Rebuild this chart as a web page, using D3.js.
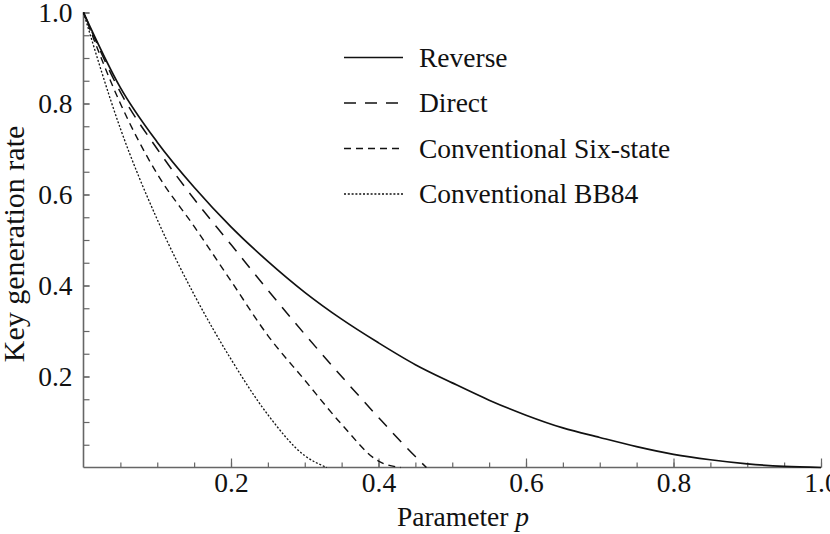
<!DOCTYPE html>
<html>
<head>
<meta charset="utf-8">
<script src="https://cdn.jsdelivr.net/npm/d3@7"></script>
<style>
  body { margin: 0; background: #fff; }
  text { font-family: "Liberation Serif", "Times New Roman", serif; fill: #111; }
</style>
</head>
<body>
<svg id="chart" width="830" height="534"></svg>
<script>
// values
var p_reverse   = [0, 0.05, 0.1, 0.15, 0.2, 0.25, 0.3, 0.35, 0.4, 0.45, 0.5, 0.55, 0.6, 0.65, 0.7, 0.75, 0.8, 0.85, 0.9, 0.95, 1.0]
var k_reverse   = [1.0, 0.835, 0.715, 0.616, 0.529, 0.453, 0.385, 0.326, 0.274, 0.226, 0.186, 0.148, 0.115, 0.087, 0.066, 0.046, 0.029, 0.017, 0.008, 0.0025, 0]

var p_direct    = [0, 0.05, 0.1, 0.15, 0.2, 0.25, 0.3, 0.35, 0.4, 0.45, 0.465]
var k_direct    = [1.0, 0.825, 0.70, 0.59, 0.49, 0.39, 0.293, 0.2, 0.11, 0.024, 0]

var p_sixstate  = [0, 0.05, 0.1, 0.15, 0.2, 0.25, 0.3, 0.35, 0.4, 0.43]
var k_sixstate  = [1.0, 0.80, 0.645, 0.53, 0.41, 0.29, 0.192, 0.095, 0.014, 0]

var p_bb84      = [0, 0.05, 0.1, 0.15, 0.2, 0.25, 0.3, 0.33]
var k_bb84      = [1.0, 0.745, 0.545, 0.38, 0.238, 0.116, 0.026, 0]

var series_names = ["Reverse", "Direct", "Conventional Six-state", "Conventional BB84"]
var x_ticks = [0.2, 0.4, 0.6, 0.8, 1.0]
var y_ticks = [0.2, 0.4, 0.6, 0.8, 1.0]

var series = [
    {name: series_names[0], p: p_reverse,  k: k_reverse,  dash: null,    w: 1.7},
    {name: series_names[1], p: p_direct,   k: k_direct,   dash: "12,9",  w: 1.5},
    {name: series_names[2], p: p_sixstate, k: k_sixstate, dash: "7,5",   w: 1.4},
    {name: series_names[3], p: p_bb84,     k: k_bb84,     dash: "2,1.8", w: 1.3}
]

var svg = d3.select("#chart")
var plotLeft = 83.5, plotRight = 821, plotTop = 12.5, plotBottom = 467.5

var xScale = d3.scaleLinear().domain([0, 1]).range([plotLeft, plotRight]),
    yScale = d3.scaleLinear().domain([0, 1]).range([plotBottom, plotTop])

var axisColor = "#666"
var tickFont = "27.5px"

// minor ticks every 0.05
var minor = d3.range(1, 21).map(function(i){ return i * 0.05 })

var xAxis = svg.append("g")
    .attr("transform", "translate(0," + plotBottom + ")")
    .call(d3.axisBottom(xScale).tickValues(minor).tickSize(-5).tickFormat(""))
xAxis.select(".domain").remove()
xAxis.selectAll("line").attr("stroke", axisColor).attr("stroke-width", 1.2)

var xMajor = svg.append("g")
    .attr("transform", "translate(0," + plotBottom + ")")
    .call(d3.axisBottom(xScale).tickValues(x_ticks).tickSize(-9).tickFormat(d3.format(".1f")))
xMajor.select(".domain").remove()
xMajor.selectAll("line").attr("stroke", axisColor).attr("stroke-width", 1.2)
xMajor.selectAll("text")
    .attr("y", 24)
    .attr("dy", 0)
    .style("font-size", tickFont)
    .style("font-family", "Liberation Serif")
    .attr("fill", "#111")

var yAxis = svg.append("g")
    .attr("transform", "translate(" + plotLeft + ",0)")
    .call(d3.axisLeft(yScale).tickValues(minor).tickSize(-6).tickFormat(""))
yAxis.select(".domain").remove()
yAxis.selectAll("line").attr("stroke", axisColor).attr("stroke-width", 1.2)

var yMajor = svg.append("g")
    .attr("transform", "translate(" + plotLeft + ",0)")
    .call(d3.axisLeft(yScale).tickValues(y_ticks).tickSize(-6).tickFormat(d3.format(".1f")))
yMajor.select(".domain").remove()
yMajor.selectAll("line").attr("stroke", axisColor).attr("stroke-width", 1.2)
yMajor.selectAll("text")
    .attr("x", -11)
    .attr("dy", "0.34em")
    .style("font-size", tickFont)
    .style("font-family", "Liberation Serif")
    .attr("fill", "#111")

// axis lines
svg.append("line")
    .attr("x1", plotLeft).attr("x2", plotRight)
    .attr("y1", plotBottom).attr("y2", plotBottom)
    .attr("stroke", axisColor).attr("stroke-width", 1.6)
svg.append("line")
    .attr("x1", plotLeft).attr("x2", plotLeft)
    .attr("y1", plotTop).attr("y2", plotBottom)
    .attr("stroke", axisColor).attr("stroke-width", 1.6)

// curves
var line = d3.line()
    .x(function(d) { return xScale(d[0]) })
    .y(function(d) { return yScale(d[1]) })
    .curve(d3.curveMonotoneX)

series.forEach(function(s) {
    var pts = s.p.map(function(v, i){ return [v, s.k[i]] })
    svg.append("path")
        .datum(pts)
        .attr("d", line)
        .style("fill", "none")
        .style("stroke", "#111")
        .style("stroke-width", s.w)
        .style("stroke-dasharray", s.dash)
})

// legend
series.forEach(function(s, i) {
    var y = 57.5 + i * 45.5
    svg.append("line")
        .attr("x1", 344).attr("x2", 403)
        .attr("y1", y).attr("y2", y)
        .style("stroke", "#111")
        .style("stroke-width", s.w)
        .style("stroke-dasharray", s.dash)
    svg.append("text")
        .attr("x", 419)
        .attr("y", y + 9)
        .style("font-size", "27.5px")
        .text(s.name)
})

// axis titles
svg.append("text")
    .attr("x", 463)
    .attr("y", 526)
    .attr("text-anchor", "middle")
    .style("font-size", "27.5px")
    .html('Parameter <tspan font-style="italic">p</tspan>')

svg.append("text")
    .attr("text-anchor", "middle")
    .attr("transform", "translate(24,244)rotate(-90)")
    .style("font-size", "30px")
    .text("Key generation rate")
</script>
</body>
</html>
